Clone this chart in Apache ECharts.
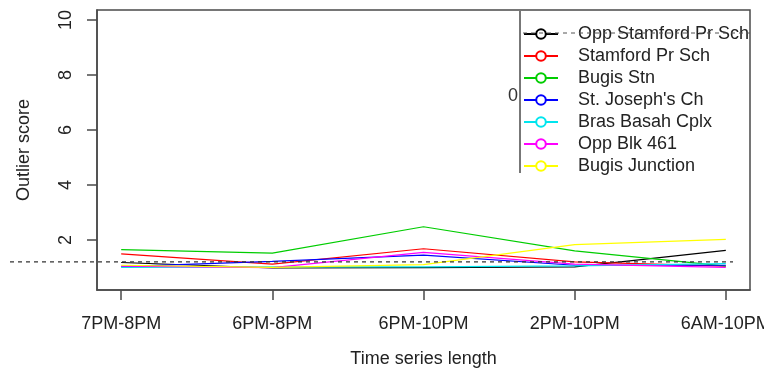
<!DOCTYPE html>
<html>
<head>
<meta charset="utf-8">
<script src="https://cdn.jsdelivr.net/npm/echarts@6/dist/echarts.min.js"></script>
<style>
  html, body { margin: 0; padding: 0; background: #fff; }
  #main { width: 764px; height: 377px; }
</style>
</head>
<body>
<div id="main"></div>
<script>
// time windows along the x axis
var categories = ['7PM-8PM', '6PM-8PM', '6PM-10PM', '2PM-10PM', '6AM-10PM'];
var yTicks = [2, 4, 6, 8, 10];
var threshold = 1.2;

var oppStamford   = [1.18, 0.98, 0.99, 1.02, 1.62];
var stamford      = [1.49, 1.12, 1.68, 1.20, 1.05];
var bugisStn      = [1.65, 1.52, 2.48, 1.60, 1.05];
var stJoseph      = [1.03, 1.22, 1.45, 1.08, 1.08];
var brasBasah     = [1.00, 1.02, 1.02, 1.06, 1.14];
var oppBlk461     = [1.05, 0.99, 1.55, 1.12, 1.00];
var bugisJunction = [1.08, 1.00, 1.10, 1.83, 2.02];

var stops = [
  ['Opp Stamford Pr Sch', oppStamford, '#000000'],
  ['Stamford Pr Sch', stamford, '#ff0000'],
  ['Bugis Stn', bugisStn, '#00cd00'],
  ["St. Joseph's Ch", stJoseph, '#0000ff'],
  ['Bras Basah Cplx', brasBasah, '#00e5ee'],
  ['Opp Blk 461', oppBlk461, '#ff00ff'],
  ['Bugis Junction', bugisJunction, '#ffff00']
];

var font = 'Liberation Sans, Arial, sans-serif';
var frame = '#4a4a4a';

var chart = echarts.init(document.getElementById('main'));

var series = stops.map(function (s) {
  return {
    name: s[0],
    type: 'line',
    xAxisIndex: 0,
    yAxisIndex: 0,
    data: s[1].map(function (v, i) { return [i + 1, v]; }),
    symbol: 'emptyCircle',
    showSymbol: false,
    color: s[2],
    lineStyle: { width: 1.2, color: s[2] },
    silent: true,
    animation: false
  };
});

// the dashed threshold line runs across the whole picture
series.push({
  name: 'threshold',
  type: 'line',
  xAxisIndex: 1,
  yAxisIndex: 1,
  data: [[0, threshold], [1, threshold]],
  showSymbol: false,
  symbol: 'none',
  lineStyle: { width: 1.2, color: '#333', type: [4, 4] },
  silent: true,
  animation: false,
  z: 5
});

var option = {
  backgroundColor: '#fff',
  animation: false,
  textStyle: { fontFamily: font },
  grid: [
    { left: 97, top: 10, width: 653, height: 280, show: true, borderColor: frame, borderWidth: 1.5, outerBoundsMode: 'none', containLabel: false },
    { left: 10, top: 10, width: 723, height: 280, outerBoundsMode: 'none', containLabel: false }
  ],
  legend: {
    data: stops.map(function (s) { return s[0]; }),
    orient: 'vertical',
    left: 519,
    top: 25,
    padding: [0, 0, 0, 4],
    itemWidth: 34,
    itemHeight: 12,
    itemGap: 4,
    selectedMode: false,
    textStyle: { fontSize: 18, color: '#222', fontFamily: font, padding: [0, 0, 0, 15] }
  },
  xAxis: [
    {
      type: 'value',
      gridIndex: 0,
      min: 0.84,
      max: 5.16,
      splitLine: { show: false },
      axisLine: { show: true, onZero: false, lineStyle: { color: frame, width: 1.5 } },
      axisTick: { show: true, inside: false, length: 10, customValues: [1, 2, 3, 4, 5], lineStyle: { color: frame, width: 1.5 } },
      axisLabel: {
        customValues: [1, 2, 3, 4, 5],
        formatter: function (v) { return categories[Math.round(v) - 1]; },
        fontSize: 18, color: '#222', margin: 25, fontFamily: font, hideOverlap: false
      },
      name: 'Time series length',
      nameLocation: 'middle',
      nameGap: 60,
      nameTextStyle: { fontSize: 18, color: '#222', fontFamily: font }
    },
    { type: 'value', gridIndex: 1, min: 0, max: 1, show: false }
  ],
  yAxis: [
    {
      type: 'value',
      gridIndex: 0,
      min: 0.18,
      max: 10.36,
      splitLine: { show: false },
      axisLine: { show: true, onZero: false, lineStyle: { color: frame, width: 1.5 } },
      axisTick: { show: true, inside: false, length: 10, customValues: yTicks, lineStyle: { color: frame, width: 1.5 } },
      axisLabel: {
        customValues: yTicks,
        rotate: 90,
        fontSize: 18, color: '#222', margin: 22, fontFamily: font
      },
      name: 'Outlier score',
      nameLocation: 'middle',
      nameGap: 64,
      nameTextStyle: { fontSize: 18, color: '#222', fontFamily: font }
    },
    { type: 'value', gridIndex: 1, min: 0.18, max: 10.36, show: false }
  ],
  graphic: [
    // left edge of the legend box
    { type: 'line', shape: { x1: 520, y1: 11, x2: 520, y2: 173 }, style: { stroke: frame, lineWidth: 1.5 }, z: 10 },
    // stray dashed stroke through the first legend entry
    { type: 'line', shape: { x1: 523, y1: 33, x2: 750, y2: 33 }, style: { stroke: '#555', lineWidth: 1, lineDash: [4, 4] }, z: 10 },
    { type: 'text', left: 508, top: 87, style: { text: '0', fontSize: 18, fill: '#333', fontFamily: font }, z: 1 }
  ],
  series: series
};

chart.setOption(option);
</script>
</body>
</html>
